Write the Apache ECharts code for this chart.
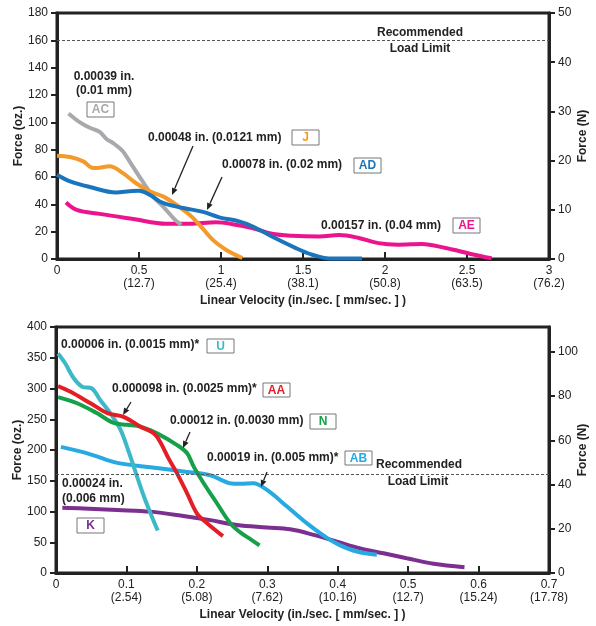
<!DOCTYPE html>
<html>
<head>
<meta charset="utf-8">
<script src="https://cdn.jsdelivr.net/npm/echarts@6/dist/echarts.min.js"></script>
<style>
  html, body { margin: 0; padding: 0; background: #fff; }
  #main { width: 596px; height: 626px; }
</style>
</head>
<body>
<div id="main"></div>
<script>
// top chart: x ticks (in./sec) and mm/sec labels
var topTicksMm = ['', '(12.7)', '(25.4)', '(38.1)', '(50.8)', '(63.5)', '(76.2)'];
var botTicksMm = ['', '(2.54)', '(5.08)', '(7.62)', '(10.16)', '(12.7)', '(15.24)', '(17.78)'];
var loadLimit = 160;

// top chart curves (x = in./sec, y = oz)
var acX = [0.07, 0.14, 0.2, 0.26, 0.3, 0.34, 0.4, 0.45, 0.515, 0.585, 0.657, 0.717, 0.757];
var acY = [106.5, 100, 96, 93, 88, 85, 79, 70, 58, 46, 37, 29, 25];
var jX = [0, 0.08, 0.16, 0.22, 0.26, 0.32, 0.40, 0.48, 0.565, 0.646, 0.727, 0.808, 0.869, 0.95, 1.03, 1.13];
var jY = [75.6, 74.6, 71.4, 66.6, 66.8, 67.8, 63, 55.6, 49.5, 45.8, 39.7, 32.4, 25, 14, 6.8, 0.7];
var adX = [0, 0.08, 0.2, 0.36, 0.44, 0.5, 0.565, 0.646, 0.77, 0.89, 0.99, 1.11, 1.19, 1.31, 1.456, 1.557, 1.66, 1.86];
var adY = [61.7, 56.8, 52.7, 48.7, 49.5, 50, 47, 41, 37.3, 34.5, 30.5, 27.5, 24, 16.5, 8, 3.1, 0.4, 0.4];
var aeX = [0.055, 0.12, 0.26, 0.464, 0.666, 0.81, 0.97, 1.07, 1.19, 1.31, 1.435, 1.6, 1.72, 1.84, 1.96, 2.08, 2.225, 2.37, 2.53, 2.65];
var aeY = [41.4, 36, 33, 29.3, 25.8, 25.8, 26.8, 25.5, 22.7, 18.5, 17, 16.5, 17.5, 15.4, 11.6, 10.5, 11, 8, 3.5, 0.5];

// bottom chart curves
var uX = [0.003, 0.013, 0.025, 0.037, 0.051, 0.063, 0.077, 0.0915, 0.103, 0.113, 0.125, 0.136, 0.1445];
var uY = [357, 341, 317, 303, 300, 281, 260, 233, 198, 164, 124, 92, 69];
var aaX = [0.003, 0.02, 0.049, 0.073, 0.096, 0.12, 0.139, 0.148, 0.16, 0.17, 0.186, 0.2, 0.2145, 0.237];
var aaY = [304, 295, 276, 260, 254, 238, 227, 213, 186, 166, 130, 97, 81, 60];
var nX = [0.003, 0.03, 0.058, 0.082, 0.101, 0.12, 0.1435, 0.172, 0.186, 0.1955, 0.2097, 0.2287, 0.2475, 0.2617, 0.276, 0.289];
var nY = [286, 276, 260, 244, 241, 238, 227, 208, 195, 173, 146, 113, 81, 66, 55, 45];
var abX = [0.007, 0.049, 0.087, 0.134, 0.181, 0.219, 0.247, 0.262, 0.28, 0.2996, 0.328, 0.356, 0.3847, 0.4035, 0.427, 0.4556];
var abY = [205, 193, 179, 172, 165, 159, 146, 145, 146, 135, 108, 81, 57, 45, 35, 29.5];
var kX = [0.009, 0.039, 0.087, 0.134, 0.181, 0.219, 0.257, 0.2996, 0.3326, 0.3657, 0.399, 0.432, 0.465, 0.498, 0.536, 0.58];
var kY = [106, 105, 102.5, 99.8, 92.8, 86, 78, 74, 71, 62, 51, 40, 32, 24, 15, 9.5];

function pairs(xs, ys) {
    return xs.map(function (x, i) { return [x, ys[i]]; });
}

var FONT = '"Liberation Sans", Arial, Helvetica, sans-serif';
var BOLD = 'bold 12px ' + FONT;

function xAxisCfg(grid, max, interval, mm, step) {
    return {
        type: 'value', gridIndex: grid, min: 0, max: max, interval: interval,
        name: 'Linear Velocity (in./sec. [ mm/sec. ] )',
        nameLocation: 'middle', nameGap: 36, nameMoveOverlap: false,
        nameTextStyle: { fontFamily: FONT, fontWeight: 'bold', fontSize: 12, color: '#222' },
        axisLine: { lineStyle: { color: '#222', width: 3 } },
        axisTick: { inside: true, length: 7, lineStyle: { color: '#222', width: 2 } },
        splitLine: { show: false },
        axisLabel: {
            margin: 5, fontFamily: FONT, fontSize: 12, color: '#222', lineHeight: 13,
            formatter: function (v) {
                var i = Math.round(v / step);
                if (i === 0) return '0';
                return (+(v).toFixed(2)) + '\n' + mm[i];
            }
        }
    };
}

function yLeft(grid, max, interval) {
    return {
        type: 'value', gridIndex: grid, min: 0, max: max, interval: interval, position: 'left',
        name: 'Force (oz.)', nameLocation: 'middle', nameGap: 32, nameRotate: 90, nameMoveOverlap: false,
        nameTextStyle: { fontFamily: FONT, fontWeight: 'bold', fontSize: 12, color: '#222' },
        axisLine: { show: true, lineStyle: { color: '#222', width: 3 } },
        axisTick: { show: true, length: 6, lineStyle: { color: '#222', width: 2 } },
        splitLine: { show: false },
        axisLabel: { margin: 9, fontFamily: FONT, fontSize: 12, color: '#222' }
    };
}

function yRight(grid, max, interval) {
    return {
        type: 'value', gridIndex: grid, min: 0, max: max, interval: interval, position: 'right',
        name: 'Force (N)', nameLocation: 'middle', nameGap: 28, nameRotate: 90, nameMoveOverlap: false,
        nameTextStyle: { fontFamily: FONT, fontWeight: 'bold', fontSize: 12, color: '#222' },
        axisLine: { show: true, lineStyle: { color: '#222', width: 3 } },
        axisTick: { show: true, length: 6, lineStyle: { color: '#222', width: 2 } },
        splitLine: { show: false },
        axisLabel: { margin: 9, fontFamily: FONT, fontSize: 12, color: '#222', showMaxLabel: max % interval === 0 }
    };
}

function curve(name, xs, ys, color, xi, yi, extra) {
    var s = {
        name: name, type: 'line', xAxisIndex: xi, yAxisIndex: yi,
        data: pairs(xs, ys), smooth: 0.35, symbol: 'none',
        lineStyle: { color: color, width: 4 }, z: 3
    };
    if (extra) s.markLine = extra;
    return s;
}

var limitLine = {
    silent: true, symbol: 'none', label: { show: false },
    lineStyle: { color: '#555', width: 1, type: [3, 2] },
    data: [{ yAxis: loadLimit }]
};

// annotation helpers (pixel layout)
function txt(x, y, s, color, align) {
    return { type: 'text', x: x, y: y, z: 10, silent: true,
        style: { text: s, font: BOLD, fill: color || '#222',
                 textAlign: align || 'left', textVerticalAlign: 'middle',
                 align: align || 'left', verticalAlign: 'middle' } };
}
function box(x, y, w, h, s, color) {
    return [
        { type: 'rect', z: 10, silent: true, shape: { x: x, y: y, width: w, height: h },
          style: { fill: '#fff', stroke: '#777', lineWidth: 1 } },
        txt(x + w / 2, y + h / 2 + 0.5, s, color, 'center')
    ];
}
function arrow(x1, y1, x2, y2) {
    var a = Math.atan2(y2 - y1, x2 - x1), L = 7, W = 3;
    var bx = x2 - L * Math.cos(a), by = y2 - L * Math.sin(a);
    return [
        { type: 'line', z: 10, silent: true, shape: { x1: x1, y1: y1, x2: bx, y2: by },
          style: { stroke: '#222', lineWidth: 1.3 } },
        { type: 'polygon', z: 10, silent: true,
          shape: { points: [[x2, y2], [bx + W * Math.sin(a), by - W * Math.cos(a)], [bx - W * Math.sin(a), by + W * Math.cos(a)]] },
          style: { fill: '#222' } }
    ];
}

var C = { ac: '#a7a9ac', j: '#f39a2b', ad: '#1b75bc', ae: '#ec148c',
          u: '#3cb9c9', aa: '#e41e26', n: '#16a04a', ab: '#27aae1', k: '#7b2f8f' };

var graphics = [].concat(
    txt(104, 77, '0.00039 in.', '#222', 'center'),
    txt(104, 91, '(0.01 mm)', '#222', 'center'),
    box(87, 102, 27, 15, 'AC', C.ac),
    txt(148, 138, '0.00048 in. (0.0121 mm)'),
    box(292, 130, 27, 15, 'J', C.j),
    arrow(193, 146, 172, 195),
    txt(222, 165, '0.00078 in. (0.02 mm)'),
    box(354, 158, 27, 15, 'AD', C.ad),
    arrow(222, 177, 207, 210),
    txt(321, 226, '0.00157 in. (0.04 mm)'),
    box(453, 218, 27, 15, 'AE', C.ae),
    txt(420, 33, 'Recommended', '#222', 'center'),
    txt(420, 49, 'Load Limit', '#222', 'center'),

    txt(61, 345, '0.00006 in. (0.0015 mm)*'),
    box(207, 339, 27, 14, 'U', C.u),
    txt(112, 389, '0.000098 in. (0.0025 mm)*'),
    box(263, 383, 27, 14, 'AA', C.aa),
    arrow(131, 402, 123, 415),
    txt(170, 421, '0.00012 in. (0.0030 mm)'),
    box(310, 414, 26, 15, 'N', C.n),
    arrow(190, 432, 183, 448),
    txt(207, 458, '0.00019 in. (0.005 mm)*'),
    box(345, 451, 27, 14, 'AB', C.ab),
    arrow(267, 472, 261, 487),
    txt(419, 465, 'Recommended', '#222', 'center'),
    txt(418, 482, 'Load Limit', '#222', 'center'),
    txt(62, 484, '0.00024 in.'),
    txt(62, 499, '(0.006 mm)'),
    box(77, 518, 27, 15, 'K', C.k)
);

var myChart = echarts.init(document.getElementById('main'), null, { renderer: 'canvas' });
var option = {
    animation: false,
    backgroundColor: '#fff',
    grid: [
        { left: 57, top: 13, width: 492, height: 246, show: true, borderColor: '#222', borderWidth: 3,
          backgroundColor: 'transparent', outerBoundsMode: 'none', containLabel: false },
        { left: 56, top: 327, width: 493, height: 246, show: true, borderColor: '#222', borderWidth: 3,
          backgroundColor: 'transparent', outerBoundsMode: 'none', containLabel: false }
    ],
    xAxis: [
        xAxisCfg(0, 3, 0.5, topTicksMm, 0.5),
        xAxisCfg(1, 0.7, 0.1, botTicksMm, 0.1)
    ],
    yAxis: [
        yLeft(0, 180, 20),
        yRight(0, 50, 10),
        yLeft(1, 400, 50),
        yRight(1, 111.2, 20)
    ],
    series: [
        curve('AE', aeX, aeY, C.ae, 0, 0, limitLine),
        curve('AC', acX, acY, C.ac, 0, 0),
        curve('J', jX, jY, C.j, 0, 0),
        curve('AD', adX, adY, C.ad, 0, 0),
        curve('K', kX, kY, C.k, 1, 2, limitLine),
        curve('AB', abX, abY, C.ab, 1, 2),
        curve('U', uX, uY, C.u, 1, 2),
        curve('N', nX, nY, C.n, 1, 2),
        curve('AA', aaX, aaY, C.aa, 1, 2)
    ],
    graphic: graphics
};
myChart.setOption(option);
</script>
</body>
</html>
